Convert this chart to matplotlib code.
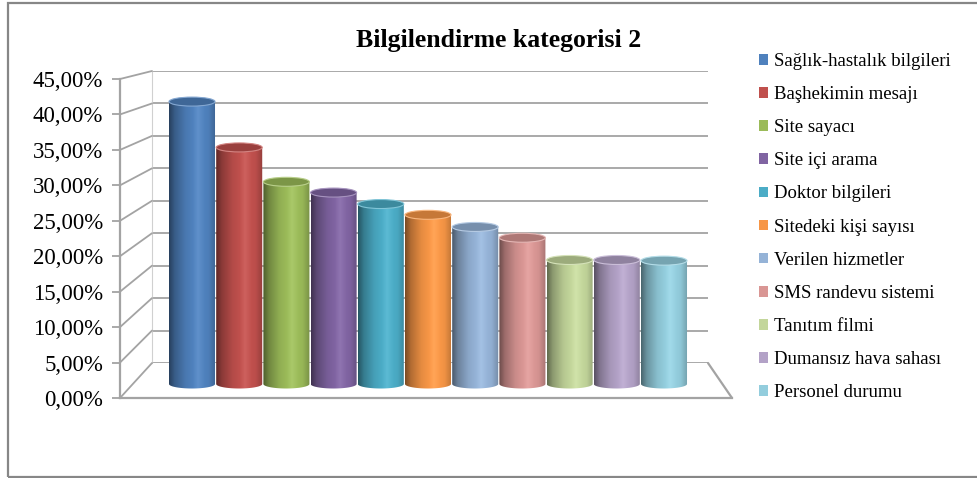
import numpy as np
import matplotlib
matplotlib.use("Agg")
import matplotlib.pyplot as plt
from matplotlib.patches import Ellipse, Polygon, Patch, Rectangle, ConnectionPatch
from matplotlib.ticker import FuncFormatter

# Chart data
categories = ["Sağlık-hastalık bilgileri", "Başhekimin mesajı", "Site sayacı",
              "Site içi arama", "Doktor bilgileri", "Sitedeki kişi sayısı",
              "Verilen hizmetler", "SMS randevu sistemi", "Tanıtım filmi",
              "Dumansız hava sahası", "Personel durumu"]
values = [41.9, 35.1, 30.0, 28.4, 26.7, 25.1, 23.3, 21.7, 18.4, 18.4, 18.3]
colors = ["#4F81BD", "#C0504D", "#9BBB59", "#8064A2", "#4BACC6", "#F79646",
          "#95B3D7", "#D99694", "#C3D69B", "#B3A2C7", "#93CDDD"]
y_ticks = [0, 5, 10, 15, 20, 25, 30, 35, 40, 45]
title = "Bilgilendirme kategorisi 2"

plt.rcParams['font.family'] = ['Liberation Serif', 'DejaVu Serif']

W, H = 977, 478
fig = plt.figure(figsize=(W / 100, H / 100), dpi=100)
grid_col = "#a3a3a3"


def px_box(x0, y0, x1, y1):
    # pixel box (top-left origin) -> figure fraction rect
    return [x0 / W, 1 - y1 / H, (x1 - x0) / W, (y1 - y0) / H]


# outer frame
fig.add_artist(Rectangle((8 / W, 1 - 477 / H), 1.2, (477 - 3) / H, transform=fig.transFigure,
                         fill=False, edgecolor="#878787", linewidth=1.6))

# back wall with gridlines
ax_back = fig.add_axes(px_box(152, 71, 708, 363))
ax_back.set_ylim(0, 45)
ax_back.set_xlim(0, 1)
ax_back.set_yticks(y_ticks)
ax_back.set_xticks([])
ax_back.yaxis.grid(True, color=grid_col, linewidth=1.3)
ax_back.tick_params(left=False, labelleft=False)
for s in ["top", "right", "bottom"]:
    ax_back.spines[s].set_visible(False)
ax_back.spines["left"].set_color("#d0d0d0")
ax_back.patch.set_alpha(0)

# front axis with the tick labels
ax_front = fig.add_axes(px_box(120, 79, 732, 398))
ax_front.set_ylim(0, 45)
ax_front.set_xlim(0, 1)
ax_front.set_yticks(y_ticks)
ax_front.set_xticks([])
ax_front.yaxis.set_major_formatter(FuncFormatter(lambda v, p: f"{v:.2f}%".replace(".", ",")))
ax_front.tick_params(axis="y", length=6, width=1.3, color=grid_col, pad=6, labelsize=16.5)
for s in ["top", "right"]:
    ax_front.spines[s].set_visible(False)
for s in ["left", "bottom"]:
    ax_front.spines[s].set_color(grid_col)
    ax_front.spines[s].set_linewidth(1.6)
ax_front.patch.set_alpha(0)

# connectors between front axis and back wall
for v in y_ticks:
    con = ConnectionPatch(xyA=(0, v), coordsA=ax_front.get_yaxis_transform(),
                          xyB=(0, v), coordsB=ax_back.get_yaxis_transform(),
                          color=grid_col, linewidth=1.3)
    fig.add_artist(con)
fig.add_artist(ConnectionPatch(xyA=(1, 0), coordsA=ax_front.transAxes,
                               xyB=(1, 0), coordsB=ax_back.transAxes,
                               color=grid_col, linewidth=1.6))

# cylinders
top_px, zero_px = 80.7, 384.0
unit = (zero_px - top_px) / 45
ymin = -3
ax = fig.add_axes(px_box(168.4, top_px, 687.6, zero_px - ymin * unit))
ax.set_axis_off()
ax.patch.set_alpha(0)

bw = 0.975
eh = 9 / unit
shade_t = [0.0, 0.12, 0.35, 0.62, 0.85, 1.0]
shade_f = [0.50, 0.72, 0.93, 1.05, 0.97, 0.78]
tt = np.linspace(0, 1, 80)
fac = np.interp(tt, shade_t, shade_f)

for i, (v, c) in enumerate(zip(values, colors)):
    base = np.array(matplotlib.colors.to_rgb(c))
    strip = np.clip(base[None, :] * fac[:, None], 0, 1)
    # lift the highlight a bit towards white
    strip = np.where(fac[:, None] > 1, strip + (1 - strip) * (fac[:, None] - 1) * 1.5, strip)
    x0, x1 = i - bw / 2, i + bw / 2
    th = np.linspace(np.pi, 2 * np.pi, 60)
    ex = i + bw / 2 * np.cos(th)
    ey = eh / 2 * np.sin(th)
    pts = [(x0, v)] + list(zip(ex, ey)) + [(x1, v)]
    clip = Polygon(pts, closed=True, transform=ax.transData, facecolor="none", edgecolor="none")
    ax.add_patch(clip)
    im = ax.imshow(strip[None, :, :], extent=(x0, x1, -eh / 2, v), aspect="auto",
                   interpolation="bilinear", zorder=2)
    im.set_clip_path(clip)
    top_c = np.clip(base * 0.8, 0, 1)
    rim_c = np.clip(base + (1 - base) * 0.3, 0, 1)
    ax.add_patch(Ellipse((i, v), bw, eh, facecolor=top_c, edgecolor=rim_c,
                         linewidth=0.8, zorder=3))

ax.set_xlim(-0.5, len(values) - 0.5)
ax.set_ylim(ymin, 45)

# title
fig.text(499 / W, 1 - 41 / H, title, ha="center", va="center",
         fontsize=18.5, fontweight="bold")

# legend
handles = [Patch(facecolor=c, edgecolor="none") for c in colors]
fig.legend(handles, categories, loc="upper left", bbox_to_anchor=(759 / W, 1 - 53 / H),
           frameon=False, fontsize=13.5, handlelength=0.5, handleheight=0.5,
           handletextpad=0.3, labelspacing=0.86, borderpad=0, borderaxespad=0)

fig.savefig("out.png", dpi=100)
